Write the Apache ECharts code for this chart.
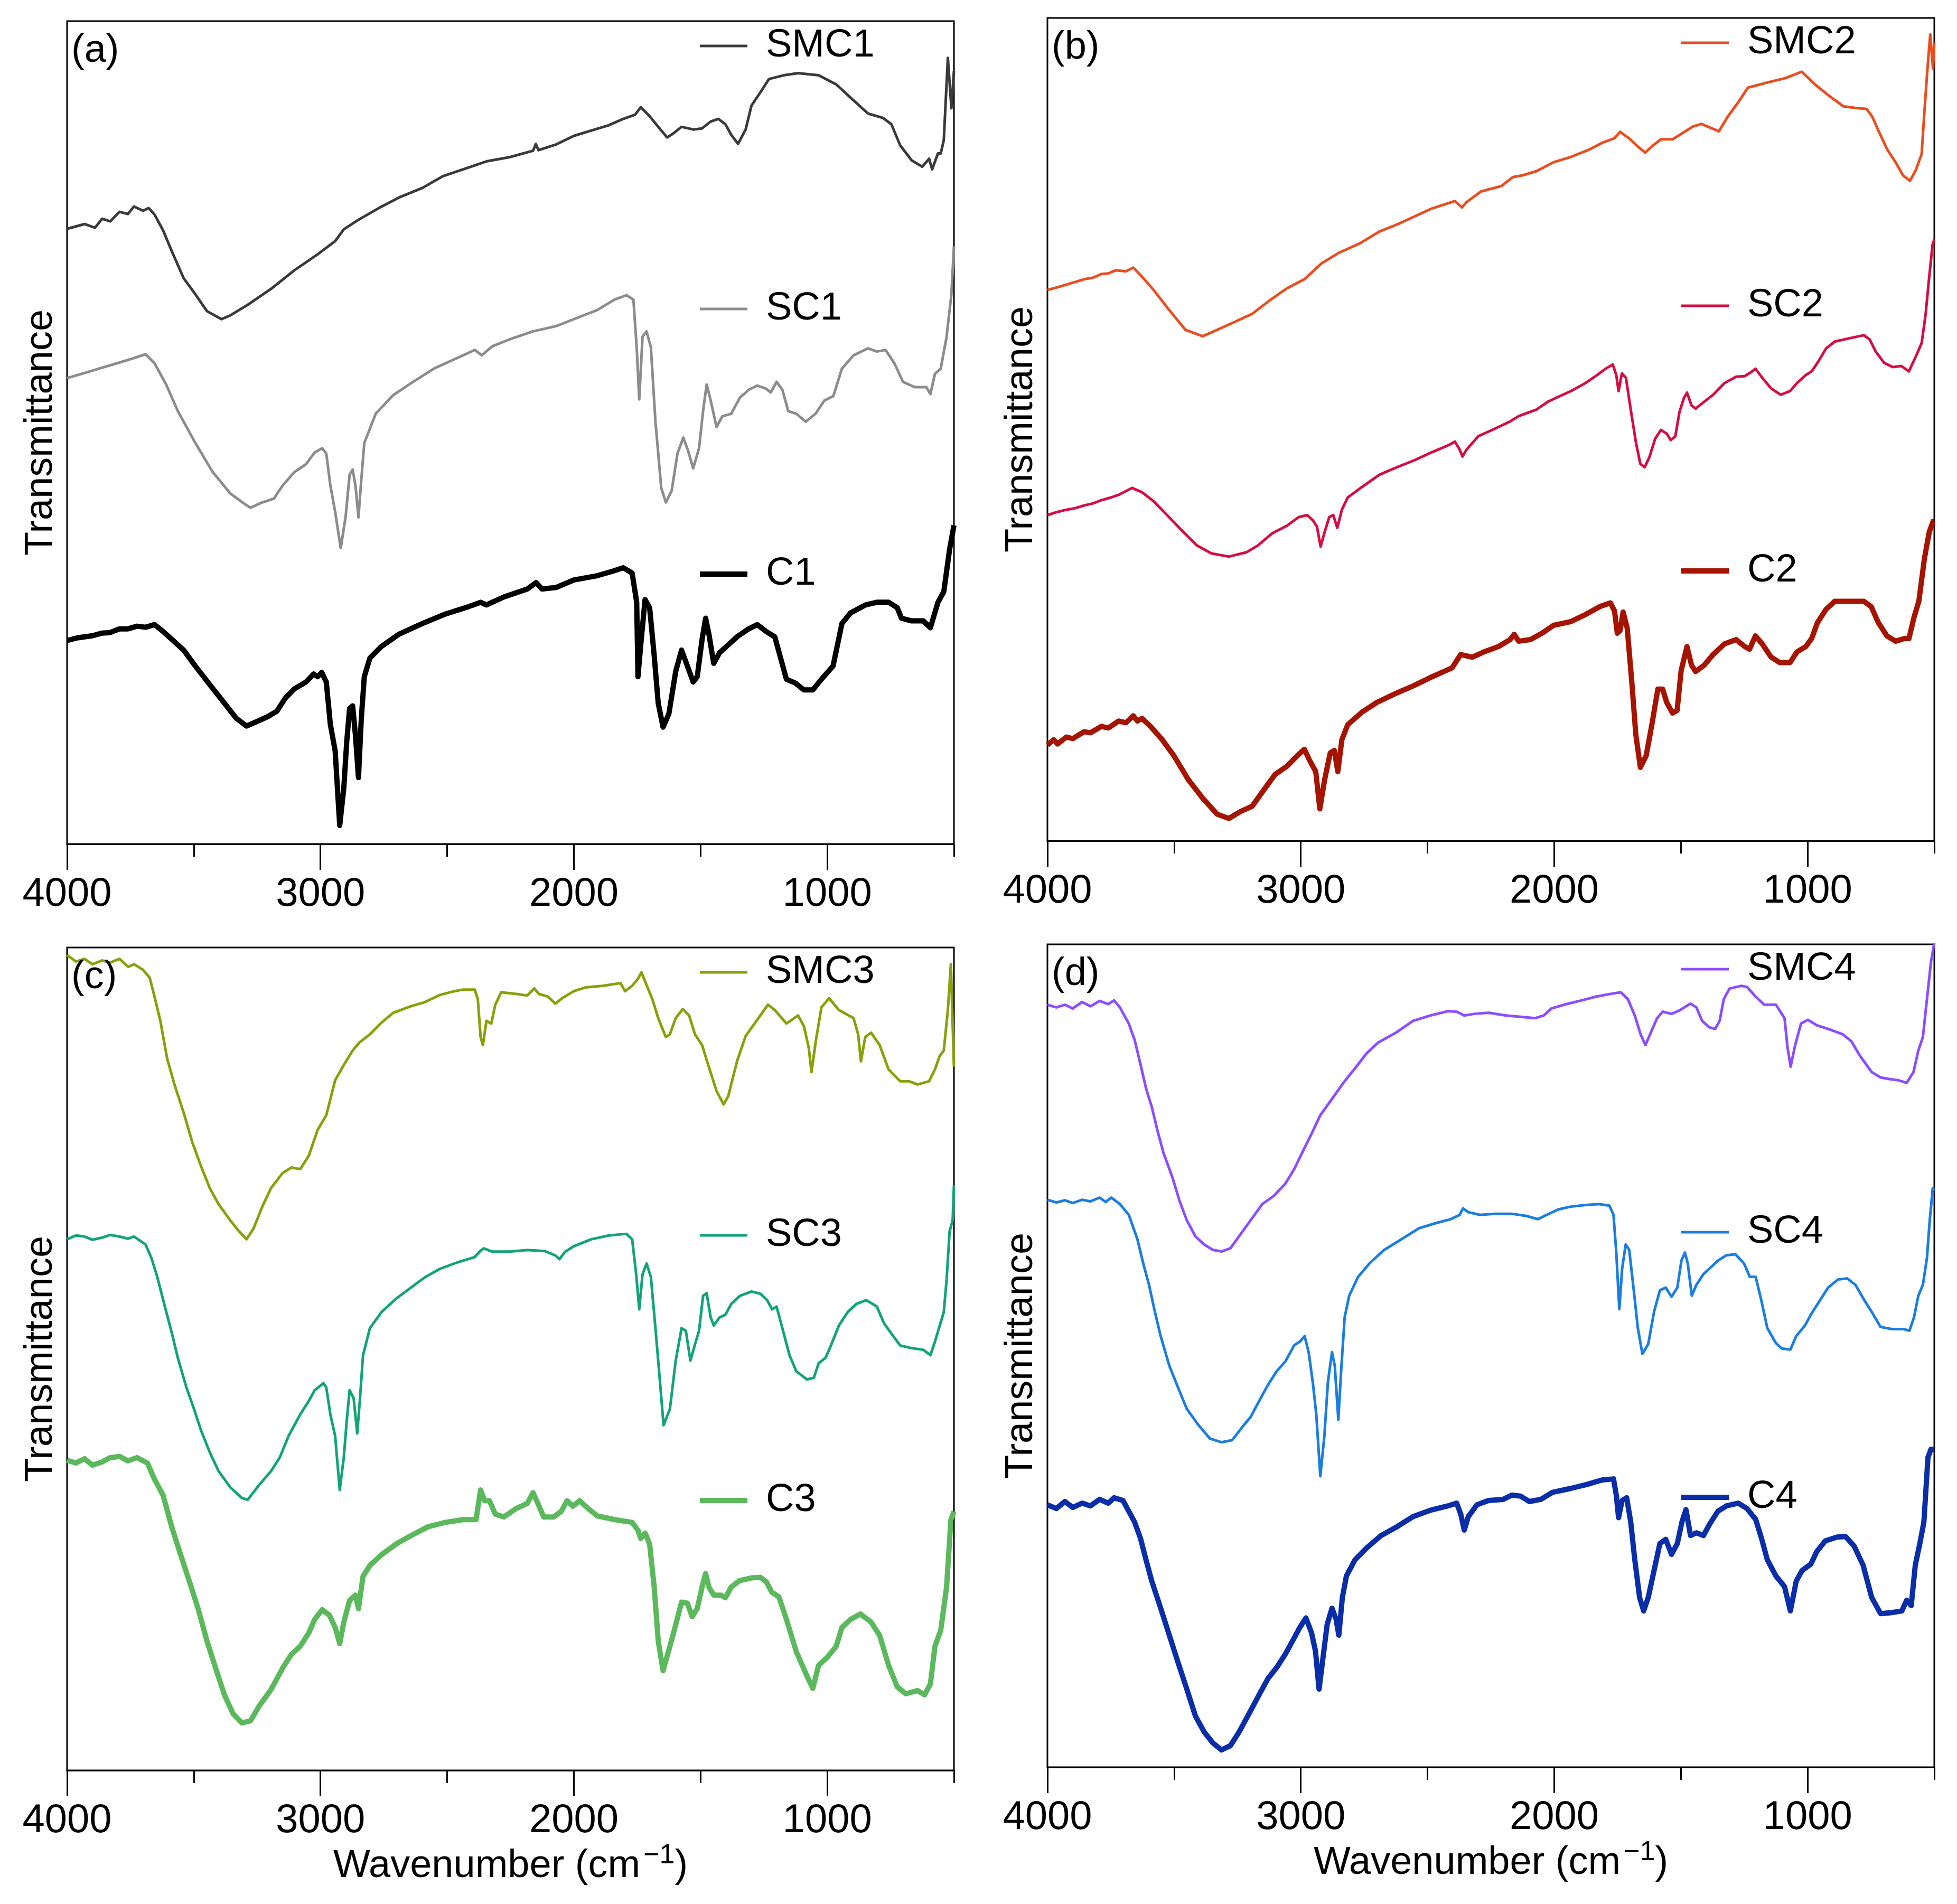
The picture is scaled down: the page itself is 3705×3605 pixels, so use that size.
<!DOCTYPE html>
<html>
<head>
<meta charset="utf-8">
<title>FTIR spectra</title>
<script src="https://cdn.jsdelivr.net/npm/echarts@6/dist/echarts.min.js"></script>
<style>
  html, body { margin: 0; padding: 0; background: #fff; }
  #main { width: 3705px; height: 3605px; }
</style>
</head>
<body>
<div id="main"></div>
<script>
// x axis: wavenumber, cm-1 (reversed)
const majorTicks = [4000, 3000, 2000, 1000]
const minorTicks = [3500, 2500, 1500, 500]
const panelLabels = ['(a)', '(b)', '(c)', '(d)']

// spectra, [wavenumber, transmittance (a.u.)]
const smc1 = [[4000,1158],[3931,1167],[3890,1160],[3862,1177],[3830,1172],[3793,1190],[3760,1186],[3736,1200],[3700,1192],[3678,1197],[3655,1185],[3621,1155],[3586,1115],[3540,1065],[3494,1035],[3448,1003],[3391,988],[3356,995],[3287,1015],[3195,1045],[3103,1080],[3011,1110],[2942,1135],[2908,1157],[2850,1175],[2770,1197],[2690,1217],[2598,1235],[2517,1257],[2437,1270],[2345,1285],[2253,1293],[2161,1305],[2150,1318],[2140,1306],[2069,1317],[2000,1333],[1931,1343],[1862,1353],[1805,1365],[1758,1373],[1736,1387],[1701,1370],[1667,1350],[1632,1330],[1609,1337],[1575,1350],[1529,1345],[1494,1347],[1460,1360],[1430,1365],[1402,1355],[1379,1335],[1352,1318],[1322,1345],[1299,1390],[1264,1415],[1230,1440],[1172,1447],[1115,1451],[1034,1447],[965,1430],[908,1405],[839,1375],[781,1367],[747,1355],[712,1315],[667,1287],[625,1275],[598,1290],[586,1270],[563,1300],[552,1300],[540,1325],[524,1480],[510,1385],[500,1455]]
const sc1 = [[4000,877],[3950,884],[3908,890],[3860,897],[3816,903],[3747,913],[3690,922],[3655,905],[3609,865],[3563,815],[3494,755],[3425,700],[3356,660],[3299,640],[3276,633],[3230,643],[3184,650],[3149,675],[3103,700],[3057,715],[3023,737],[2993,745],[2977,735],[2961,675],[2942,625],[2920,557],[2901,615],[2885,695],[2873,705],[2862,675],[2850,615],[2839,685],[2827,755],[2782,810],[2713,845],[2644,867],[2552,895],[2460,915],[2391,930],[2363,920],[2322,937],[2253,950],[2161,965],[2069,975],[2000,988],[1908,1005],[1839,1025],[1793,1033],[1765,1025],[1752,935],[1742,837],[1729,955],[1713,965],[1696,935],[1678,795],[1655,670],[1637,643],[1614,665],[1591,735],[1568,765],[1549,740],[1529,707],[1506,745],[1490,815],[1476,865],[1460,835],[1437,785],[1414,805],[1379,810],[1345,840],[1310,855],[1276,863],[1241,857],[1223,850],[1200,870],[1177,855],[1154,815],[1122,810],[1085,795],[1046,810],[1011,835],[976,843],[942,895],[896,920],[839,933],[804,927],[770,930],[735,905],[701,870],[655,860],[609,860],[593,847],[575,885],[552,895],[529,955],[510,1035],[500,1125]]
const c1 = [[4000,383],[3960,388],[3931,390],[3900,392],[3862,397],[3830,398],[3793,405],[3760,405],[3724,410],[3690,408],[3655,413],[3621,400],[3586,385],[3540,365],[3494,335],[3437,300],[3379,265],[3333,237],[3292,222],[3253,230],[3207,240],[3172,250],[3138,275],[3103,292],[3057,305],[3027,320],[3011,315],[2995,323],[2977,305],[2961,225],[2942,175],[2924,35],[2908,105],[2896,195],[2885,255],[2873,260],[2862,205],[2850,125],[2839,235],[2827,315],[2805,350],[2759,372],[2690,395],[2598,415],[2506,433],[2414,447],[2368,455],[2345,450],[2276,465],[2184,480],[2149,492],[2126,480],[2069,483],[2000,497],[1908,505],[1850,513],[1805,520],[1770,510],[1752,455],[1747,315],[1736,375],[1719,460],[1701,445],[1683,355],[1667,265],[1648,220],[1625,245],[1598,325],[1575,365],[1552,335],[1529,305],[1513,315],[1494,385],[1480,425],[1467,395],[1448,340],[1425,360],[1402,370],[1356,390],[1310,405],[1276,413],[1241,400],[1207,390],[1184,350],[1161,310],[1126,303],[1092,290],[1057,290],[1023,310],[977,335],[942,415],[908,435],[849,450],[804,455],[758,455],[724,445],[707,425],[667,420],[621,420],[593,407],[563,455],[540,475],[517,555],[500,600]]

const smc2 = [[4000,1035],[3960,1040],[3925,1045],[3890,1050],[3856,1055],[3820,1058],[3787,1065],[3760,1066],[3730,1072],[3690,1070],[3661,1077],[3627,1060],[3581,1035],[3524,1000],[3455,960],[3387,948],[3330,960],[3261,975],[3192,990],[3124,1015],[3055,1038],[2986,1055],[2918,1085],[2849,1105],[2769,1122],[2689,1145],[2620,1158],[2552,1173],[2483,1188],[2392,1202],[2364,1190],[2346,1200],[2289,1220],[2209,1230],[2163,1247],[2128,1250],[2071,1258],[2002,1275],[1934,1285],[1865,1298],[1808,1312],[1762,1320],[1740,1332],[1705,1320],[1671,1305],[1641,1293],[1614,1305],[1579,1318],[1533,1318],[1499,1328],[1453,1342],[1419,1347],[1385,1340],[1350,1333],[1316,1360],[1270,1390],[1236,1415],[1156,1425],[1087,1433],[1023,1445],[973,1422],[916,1400],[859,1380],[813,1377],[767,1375],[744,1360],[721,1335],[687,1300],[653,1275],[623,1250],[596,1240],[573,1260],[550,1290],[539,1370],[527,1450],[516,1515],[505,1450],[500,1500]]
const sc2 = [[4000,612],[3960,618],[3925,622],[3890,625],[3856,630],[3820,634],[3787,640],[3750,645],[3719,650],[3666,663],[3627,655],[3581,638],[3524,610],[3467,582],[3410,555],[3353,540],[3284,534],[3215,542],[3169,555],[3112,578],[3055,592],[3009,608],[2975,612],[2952,602],[2936,590],[2922,553],[2906,580],[2888,608],[2872,612],[2856,588],[2838,622],[2815,645],[2758,665],[2689,688],[2620,702],[2552,715],[2483,730],[2414,744],[2392,750],[2373,735],[2362,722],[2346,735],[2300,760],[2231,775],[2174,788],[2140,798],[2071,810],[2025,825],[1980,835],[1934,845],[1877,860],[1831,875],[1797,887],[1769,895],[1755,875],[1746,845],[1733,878],[1717,870],[1698,810],[1678,750],[1660,708],[1643,702],[1625,720],[1602,755],[1579,772],[1556,765],[1540,753],[1522,760],[1506,805],[1488,832],[1476,842],[1458,818],[1442,812],[1408,825],[1373,838],[1328,860],[1282,872],[1248,873],[1225,880],[1206,887],[1179,870],[1144,850],[1106,838],[1069,845],[1042,860],[1007,875],[984,882],[961,898],[927,925],[893,938],[836,944],[778,950],[755,942],[732,920],[698,898],[664,890],[630,892],[600,882],[573,910],[550,935],[534,990],[522,1050],[507,1120],[500,1130]]
const c2 = [[4000,180],[3975,190],[3960,182],[3925,195],[3900,192],[3856,205],[3830,203],[3787,215],[3760,212],[3719,225],[3690,222],[3661,235],[3645,225],[3627,230],[3593,215],[3547,190],[3501,160],[3444,115],[3387,80],[3330,50],[3284,42],[3238,55],[3192,65],[3147,95],[3101,125],[3055,140],[3014,160],[2986,172],[2964,150],[2941,130],[2925,60],[2906,115],[2884,165],[2868,170],[2854,130],[2838,190],[2815,218],[2758,242],[2700,260],[2620,278],[2552,292],[2483,308],[2403,325],[2369,350],[2323,345],[2277,355],[2220,365],[2174,378],[2158,388],[2140,375],[2094,378],[2048,390],[2002,405],[1934,412],[1877,425],[1820,440],[1778,447],[1762,432],[1751,390],[1740,395],[1728,430],[1712,400],[1694,300],[1678,200],[1660,138],[1637,160],[1614,220],[1591,285],[1572,285],[1556,260],[1533,240],[1515,245],[1499,320],[1476,365],[1458,330],[1442,318],[1408,330],[1373,350],[1328,370],[1282,378],[1248,365],[1229,360],[1206,385],[1179,370],[1144,345],[1110,335],[1069,335],[1042,355],[1007,365],[984,380],[961,410],[927,435],[893,450],[836,450],[778,450],[749,440],[721,410],[687,385],[653,375],[618,380],[600,380],[580,420],[561,450],[539,530],[520,580],[505,600],[500,600]]

const smc3 = [[4000,1512],[3965,1500],[3931,1505],[3900,1495],[3862,1502],[3830,1498],[3793,1505],[3759,1490],[3736,1495],[3701,1485],[3674,1470],[3655,1435],[3632,1390],[3605,1320],[3575,1270],[3540,1220],[3506,1165],[3471,1120],[3437,1080],[3402,1050],[3356,1020],[3322,1000],[3292,985],[3264,1005],[3230,1045],[3195,1080],[3149,1108],[3115,1118],[3080,1115],[3046,1140],[3011,1188],[2977,1215],[2942,1280],[2908,1308],[2873,1335],[2846,1350],[2805,1365],[2763,1385],[2713,1405],[2644,1417],[2586,1425],[2529,1438],[2471,1445],[2437,1448],[2391,1448],[2379,1430],[2368,1360],[2359,1345],[2345,1390],[2326,1385],[2310,1420],[2287,1443],[2230,1440],[2184,1437],[2156,1450],[2138,1440],[2103,1435],[2073,1422],[2046,1432],[2000,1445],[1954,1452],[1885,1455],[1816,1460],[1798,1445],[1770,1455],[1747,1468],[1733,1480],[1712,1455],[1690,1430],[1667,1395],[1637,1360],[1621,1365],[1598,1395],[1570,1412],[1545,1400],[1522,1365],[1494,1345],[1471,1310],[1437,1260],[1409,1235],[1391,1250],[1356,1315],[1322,1362],[1276,1392],[1234,1420],[1207,1410],[1161,1385],[1115,1400],[1092,1380],[1073,1340],[1062,1295],[1046,1350],[1023,1415],[993,1432],[954,1410],[896,1395],[878,1365],[867,1315],[850,1360],[827,1368],[793,1345],[758,1300],[712,1278],[678,1278],[643,1272],[598,1278],[575,1300],[556,1325],[540,1335],[524,1410],[512,1495],[500,1305]]
const sc3 = [[4000,985],[3965,992],[3931,990],[3900,984],[3862,988],[3830,993],[3793,990],[3760,986],[3736,990],[3690,975],[3667,950],[3644,915],[3614,860],[3586,810],[3563,765],[3529,710],[3499,670],[3471,630],[3437,590],[3402,555],[3356,525],[3310,505],[3287,502],[3241,530],[3195,555],[3161,580],[3126,620],[3080,660],[3046,685],[3023,705],[2988,718],[2977,710],[2961,660],[2942,620],[2924,520],[2908,580],[2896,650],[2885,705],[2869,690],[2855,625],[2844,690],[2832,770],[2805,820],[2759,850],[2701,875],[2644,895],[2586,915],[2529,930],[2460,942],[2391,952],[2372,962],[2356,968],[2322,962],[2253,962],[2184,965],[2115,963],[2073,955],[2057,948],[2034,962],[2000,972],[1931,985],[1862,992],[1793,995],[1770,985],[1754,920],[1742,855],[1729,920],[1713,940],[1696,915],[1678,820],[1660,720],[1646,640],[1621,670],[1598,760],[1575,820],[1558,815],[1540,760],[1522,790],[1506,815],[1490,880],[1476,885],[1460,840],[1448,825],[1425,840],[1402,845],[1379,865],[1345,880],[1299,888],[1264,884],[1237,872],[1218,855],[1200,860],[1177,820],[1149,770],[1122,740],[1080,725],[1053,728],[1034,755],[1007,765],[988,785],[954,825],[919,850],[885,865],[846,872],[804,860],[777,830],[747,810],[712,788],[667,783],[621,780],[593,770],[575,795],[556,825],[540,850],[529,910],[517,1000],[505,1020],[500,1085]]
const c3 = [[4000,575],[3965,570],[3931,578],[3900,566],[3862,572],[3830,580],[3793,582],[3760,574],[3724,580],[3683,570],[3655,540],[3621,510],[3586,450],[3552,400],[3517,350],[3483,300],[3448,240],[3414,190],[3379,140],[3345,105],[3310,88],[3276,92],[3241,120],[3195,150],[3149,190],[3115,215],[3080,230],[3046,255],[3023,280],[2993,298],[2965,288],[2942,265],[2924,235],[2908,275],[2885,315],[2862,325],[2850,300],[2832,360],[2805,380],[2759,400],[2701,420],[2644,435],[2575,452],[2506,460],[2437,465],[2386,465],[2368,520],[2352,500],[2333,500],[2310,475],[2276,470],[2230,485],[2184,495],[2161,515],[2142,495],[2119,470],[2080,470],[2050,480],[2027,500],[2004,490],[1977,500],[1942,485],[1908,472],[1839,465],[1770,460],[1747,445],[1736,430],[1719,440],[1701,420],[1683,340],[1667,240],[1648,185],[1621,230],[1598,270],[1575,312],[1552,310],[1533,285],[1513,300],[1494,340],[1480,365],[1467,340],[1448,325],[1420,325],[1402,320],[1379,340],[1345,352],[1299,357],[1264,358],[1241,350],[1218,330],[1191,322],[1161,280],[1122,220],[1080,175],[1057,152],[1034,195],[999,210],[965,230],[942,265],[908,280],[869,290],[827,275],[793,250],[758,195],[724,155],[690,142],[644,148],[616,140],[593,160],[575,230],[552,260],[529,340],[512,465],[500,480]]

const smc4 = [[4000,1415],[3965,1410],[3931,1415],[3900,1408],[3863,1420],[3830,1412],[3794,1422],[3760,1416],[3737,1423],[3714,1410],[3679,1380],[3656,1350],[3633,1305],[3611,1260],[3588,1225],[3565,1180],[3542,1140],[3507,1095],[3478,1050],[3450,1015],[3416,985],[3381,970],[3347,960],[3313,957],[3278,963],[3244,985],[3198,1015],[3152,1045],[3107,1060],[3061,1083],[3026,1110],[2992,1143],[2958,1175],[2923,1210],[2877,1240],[2832,1270],[2786,1297],[2740,1325],[2694,1345],[2625,1363],[2557,1385],[2488,1395],[2419,1403],[2385,1402],[2355,1395],[2316,1398],[2259,1400],[2190,1395],[2121,1392],[2076,1390],[2041,1395],[2011,1408],[1961,1415],[1892,1423],[1835,1430],[1778,1435],[1737,1438],[1709,1425],[1682,1395],[1659,1360],[1640,1340],[1617,1365],[1594,1390],[1572,1402],[1537,1398],[1503,1405],[1462,1417],[1439,1410],[1416,1385],[1388,1373],[1365,1370],[1347,1385],[1331,1425],[1308,1445],[1262,1450],[1239,1448],[1205,1430],[1171,1415],[1125,1415],[1091,1390],[1079,1335],[1067,1300],[1049,1340],[1026,1380],[999,1387],[964,1377],[907,1368],[861,1360],[827,1347],[793,1320],[747,1290],[712,1280],[678,1277],[644,1275],[609,1270],[582,1290],[563,1330],[545,1355],[529,1425],[513,1495],[500,1530]]
const sc4 = [[4000,1053],[3965,1048],[3931,1052],[3900,1047],[3863,1053],[3830,1050],[3794,1057],[3770,1049],[3748,1057],[3714,1045],[3679,1025],[3645,980],[3622,935],[3599,895],[3576,845],[3553,800],[3519,745],[3485,705],[3450,665],[3404,635],[3359,610],[3313,603],[3271,607],[3233,630],[3198,650],[3164,680],[3129,710],[3095,735],[3061,753],[3026,783],[3003,790],[2985,800],[2969,770],[2953,715],[2939,655],[2923,540],[2907,615],[2893,715],[2877,770],[2866,745],[2852,645],[2841,735],[2827,835],[2809,875],[2774,910],[2729,935],[2671,960],[2602,980],[2534,1000],[2465,1010],[2408,1017],[2373,1025],[2360,1037],[2339,1030],[2293,1025],[2236,1027],[2167,1027],[2110,1023],[2064,1017],[2030,1025],[1984,1035],[1938,1040],[1881,1043],[1824,1045],[1782,1042],[1766,1025],[1755,955],[1743,850],[1732,925],[1718,970],[1704,960],[1686,885],[1670,815],[1652,767],[1629,785],[1606,845],[1583,885],[1560,890],[1537,873],[1514,890],[1498,940],[1484,955],[1473,935],[1457,875],[1439,895],[1411,915],[1388,925],[1354,940],[1320,950],[1285,952],[1251,935],[1228,910],[1205,910],[1182,865],[1159,815],[1125,787],[1102,777],[1068,775],[1045,800],[1010,820],[987,840],[953,865],[919,890],[880,905],[843,907],[811,895],[774,865],[747,845],[712,817],[667,813],[621,813],[598,810],[580,835],[563,875],[545,895],[529,945],[518,1015],[506,1075],[500,1070]]
const c4 = [[4000,487],[3965,480],[3931,493],[3900,482],[3863,490],[3830,485],[3794,497],[3760,490],[3737,500],[3702,495],[3679,475],[3656,455],[3633,425],[3611,385],[3588,345],[3553,295],[3519,245],[3485,195],[3450,145],[3416,95],[3381,65],[3347,45],[3313,32],[3278,40],[3244,65],[3198,105],[3164,135],[3129,165],[3095,185],[3061,210],[3026,240],[3003,260],[2980,277],[2958,250],[2942,215],[2928,145],[2912,205],[2896,265],[2877,295],[2861,275],[2850,245],[2836,315],[2820,355],[2786,385],[2740,407],[2683,430],[2625,445],[2557,465],[2488,477],[2419,485],[2385,490],[2369,470],[2355,440],[2339,465],[2305,487],[2259,495],[2202,497],[2167,505],[2133,503],[2098,493],[2053,497],[2007,510],[1938,517],[1869,525],[1812,533],[1766,535],[1755,505],[1746,463],[1732,495],[1714,500],[1698,455],[1682,385],[1663,315],[1647,290],[1629,315],[1606,365],[1583,415],[1560,423],[1537,395],[1514,415],[1496,455],[1480,478],[1462,430],[1439,435],[1411,430],[1388,450],[1354,475],[1320,485],[1274,490],[1239,480],[1205,460],[1182,425],[1159,385],[1125,355],[1091,335],[1068,290],[1045,345],[1022,365],[987,377],[964,400],[930,420],[884,427],[850,428],[816,410],[781,375],[747,315],[712,285],[667,287],[628,290],[609,310],[591,300],[575,375],[557,415],[541,455],[525,575],[513,590],[500,590]]

const FONT = 'Liberation Sans, Arial, Helvetica, sans-serif'

// panel boxes in px, y top for each panel and the y range in a.u.
const panels = [
    { left: 127, top: 40, yMax: 1549, xName: '' },
    { left: 1983, top: 34, yMax: 1546, xName: '' },
    { left: 127, top: 1794, yMax: 1526, xName: 'Wavenumber (cm{sup|−1})' },
    { left: 1983, top: 1788, yMax: 1527, xName: 'Wavenumber (cm{sup|−1})' }
]
const PW = 1679, PH = 1558

const curves = [
    { name: 'SMC1', data: smc1, color: '#3a3a3a', width: 5, panel: 0, row: 0 },
    { name: 'SC1', data: sc1, color: '#8c8c8c', width: 5, panel: 0, row: 1 },
    { name: 'C1', data: c1, color: '#000000', width: 10, panel: 0, row: 2 },
    { name: 'SMC2', data: smc2, color: '#e84e1f', width: 5, panel: 1, row: 0 },
    { name: 'SC2', data: sc2, color: '#d40d42', width: 5, panel: 1, row: 1 },
    { name: 'C2', data: c2, color: '#a51400', width: 10, panel: 1, row: 2 },
    { name: 'SMC3', data: smc3, color: '#86a10a', width: 5, panel: 2, row: 0 },
    { name: 'SC3', data: sc3, color: '#12a37a', width: 5, panel: 2, row: 1 },
    { name: 'C3', data: c3, color: '#5cb85c', width: 10, panel: 2, row: 2 },
    { name: 'SMC4', data: smc4, color: '#8c4dff', width: 5, panel: 3, row: 0 },
    { name: 'SC4', data: sc4, color: '#1b7de0', width: 5, panel: 3, row: 1 },
    { name: 'C4', data: c4, color: '#0a2da8', width: 10, panel: 3, row: 2 }
]
// legend centre heights, relative to panel top
const legendRows = [50, 548, 1050]

const grids = [], xAxes = [], yAxes = [], titles = []
panels.forEach(function (p, i) {
    grids.push({
        left: p.left, top: p.top, width: PW, height: PH,
        show: true, borderColor: '#000', borderWidth: 3, backgroundColor: 'transparent'
    })
    // major ticks + labels
    xAxes.push({
        gridIndex: i, type: 'value', position: 'bottom', inverse: true, min: 500, max: 4000,
        name: p.xName, nameLocation: 'middle', nameGap: 136,
        nameTextStyle: {
            fontSize: 74, fontFamily: FONT, color: '#000',
            rich: { sup: { fontSize: 52, fontFamily: FONT, color: '#000', verticalAlign: 'top', padding: [0, 0, 40, 6] } }
        },
        axisLine: { show: true, onZero: false, lineStyle: { color: '#000', width: 3 } },
        axisTick: { show: true, customValues: majorTicks, length: 49, lineStyle: { color: '#000', width: 3 } },
        axisLabel: {
            customValues: majorTicks, fontSize: 76, fontFamily: FONT, color: '#000', margin: 58,
            formatter: function (v) { return String(v) }
        },
        splitLine: { show: false }
    })
    // minor ticks
    xAxes.push({
        gridIndex: i, type: 'value', position: 'bottom', inverse: true, min: 500, max: 4000,
        axisLine: { show: false, onZero: false },
        axisTick: { show: true, customValues: minorTicks, length: 24, lineStyle: { color: '#000', width: 3 } },
        axisLabel: { show: false },
        splitLine: { show: false }
    })
    yAxes.push({
        gridIndex: i, type: 'value', min: 0, max: p.yMax,
        name: 'Transmittance', nameLocation: 'middle', nameGap: 12,
        nameTextStyle: { fontSize: 74, fontFamily: FONT, color: '#000' },
        axisLine: { show: false }, axisTick: { show: false },
        axisLabel: { show: false }, splitLine: { show: false }
    })
    titles.push({
        text: panelLabels[i], left: p.left + 8, top: p.top + 20, padding: 0,
        textStyle: { fontSize: 74, fontWeight: 'normal', fontFamily: FONT, color: '#000' }
    })
})

const series = curves.map(function (c) {
    return {
        name: c.name, type: 'line',
        xAxisIndex: c.panel * 2, yAxisIndex: c.panel,
        data: c.data, showSymbol: false, symbol: 'none',
        lineStyle: { color: c.color, width: c.width, join: 'round' },
        itemStyle: { color: c.color },
        animation: false
    }
})

const legends = curves.map(function (c) {
    const p = panels[c.panel]
    return {
        data: [c.name],
        left: p.left + (c.panel % 2 ? 1200 : 1198),
        top: p.top + legendRows[c.row] - 40,
        padding: 0,
        icon: 'rect', itemWidth: 90, itemHeight: c.width,
        textStyle: { fontSize: 74, fontFamily: FONT, color: '#000', padding: [0, 0, 0, 30] },
        selectedMode: false
    }
})

const myChart = echarts.init(document.getElementById('main'), null, { renderer: 'canvas' })
myChart.setOption({
    backgroundColor: '#fff',
    animation: false,
    title: titles,
    legend: legends,
    grid: grids,
    xAxis: xAxes,
    yAxis: yAxes,
    series: series
})
</script>
</body>
</html>
